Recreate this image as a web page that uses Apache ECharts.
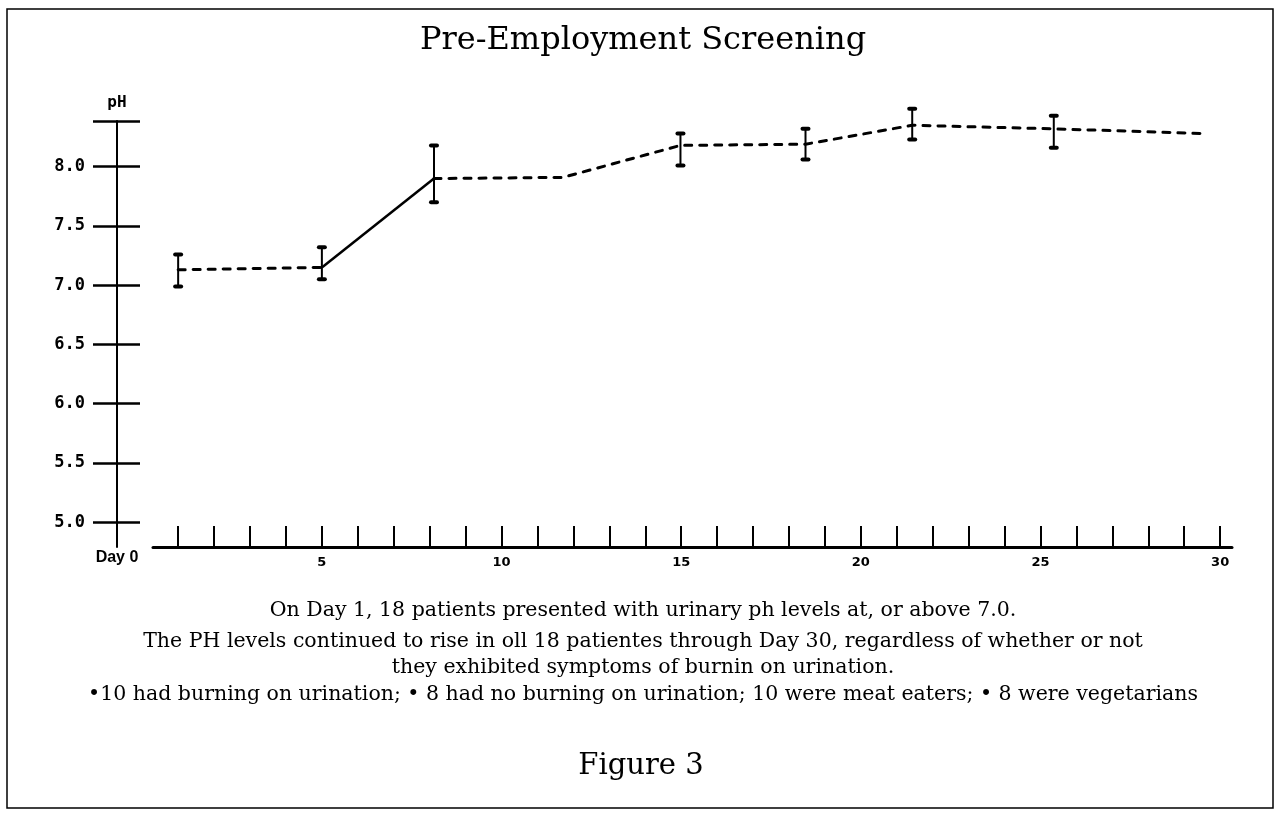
<!DOCTYPE html>
<html>
<head>
<meta charset="utf-8">
<title>Pre-Employment Screening</title>
<script src="https://cdn.jsdelivr.net/npm/echarts@6/dist/echarts.min.js"></script>
<style>
  html, body { margin: 0; padding: 0; background: #fff; }
  #chart { width: 1286px; height: 816px; }
</style>
</head>
<body>
<div id="chart"></div>
<script>
// values
var days = [1, 5, 8.12, 11.71, 14.98, 18.46, 21.43, 25.37, 29.54];
var phMean = [7.13, 7.15, 7.90, 7.91, 8.18, 8.19, 8.35, 8.32, 8.28];
var phLow = [6.99, 7.05, 7.70, null, 8.01, 8.06, 8.23, 8.16, null];
var phHigh = [7.26, 7.32, 8.18, null, 8.28, 8.32, 8.49, 8.43, null];
var solidFrom = 1, solidTo = 2; // day 5 -> day 8 drawn as a solid line

var dayTicks = [];
for (var d = 1; d <= 30; d++) dayTicks.push(d);
var dayLabels = [5, 10, 15, 20, 25, 30];
var phLabels = [5.0, 5.5, 6.0, 6.5, 7.0, 7.5, 8.0];
var phTop = 8.386, phBottom = 4.79;

var captionLines = [
  'On Day 1, 18 patients presented with urinary ph levels at, or above 7.0.',
  'The PH levels continued to rise in oll 18 patientes through Day 30, regardless of whether or not',
  'they exhibited symptoms of burnin on urination.',
  '\u202210 had burning on urination; \u2022 8 had no burning on urination; 10 were meat eaters; \u2022 8 were vegetarians'
];
var captionY = [611, 642, 668, 695];

function pts(a, b) {
  var out = [];
  for (var i = a; i <= b; i++) out.push([days[i], phMean[i]]);
  return out;
}

var errData = [];
for (var i = 0; i < days.length; i++) {
  if (phLow[i] != null) errData.push([days[i], phLow[i], phHigh[i]]);
}

var chart = echarts.init(document.getElementById('chart'));

var dashed = { color: '#000', width: 3, type: [7, 8], cap: 'round' };

var graphics = [{
  type: 'rect',
  shape: { x: 7, y: 9, width: 1266, height: 799 },
  style: { fill: 'none', stroke: '#000', lineWidth: 1.5 },
  z: 0
}, {
  type: 'text',
  x: 117, y: 558,
  style: { text: 'Day 0', font: 'bold 16px "Liberation Sans"', fill: '#000', align: 'center', verticalAlign: 'middle' }
}, {
  type: 'text',
  x: 641, y: 766,
  style: { text: 'Figure 3', font: '29px "DejaVu Serif"', fill: '#000', align: 'center', verticalAlign: 'middle' }
}];
captionLines.forEach(function (t, k) {
  graphics.push({
    type: 'text',
    x: 643, y: captionY[k],
    style: { text: t, font: '20.5px "DejaVu Serif"', fill: '#000', align: 'center', verticalAlign: 'middle' }
  });
});

var option = {
  backgroundColor: '#fff',
  animation: false,
  title: {
    text: 'Pre-Employment Screening',
    left: 'center',
    top: 20,
    textStyle: { fontFamily: 'DejaVu Serif', fontWeight: 'normal', fontSize: 32, color: '#000' }
  },
  grid: { left: 153, right: 54, top: 121, bottom: 269 },
  xAxis: {
    type: 'value',
    min: 0.3,
    max: 30.33,
    splitLine: { show: false },
    axisLine: { lineStyle: { color: '#000', width: 3 } },
    axisTick: { inside: true, length: 21, customValues: dayTicks, lineStyle: { color: '#000', width: 2 } },
    axisLabel: {
      customValues: dayLabels,
      margin: 9,
      color: '#000',
      fontFamily: 'DejaVu Sans',
      fontWeight: 'bold',
      fontSize: 13
    }
  },
  yAxis: [{
    type: 'value',
    min: phBottom,
    max: phTop,
    position: 'left',
    offset: 36,
    name: 'pH',
    nameLocation: 'end',
    nameGap: 10,
    nameTextStyle: { fontFamily: 'DejaVu Sans Mono', fontWeight: 'bold', fontSize: 16, color: '#000' },
    splitLine: { show: false },
    axisLine: { show: true, lineStyle: { color: '#000', width: 2 } },
    axisTick: { show: true, length: 24, customValues: phLabels.concat([phTop]), lineStyle: { color: '#000', width: 2.5 } },
    axisLabel: {
      customValues: phLabels,
      margin: 32,
      color: '#000',
      fontFamily: 'DejaVu Sans Mono',
      fontWeight: 'bold',
      fontSize: 17,
      formatter: function (v) { return v.toFixed(1); }
    }
  }, {
    type: 'value',
    min: phBottom,
    max: phTop,
    position: 'left',
    offset: 36,
    splitLine: { show: false },
    axisLine: { show: false },
    axisTick: { show: true, inside: true, length: 23, customValues: phLabels.concat([phTop]), lineStyle: { color: '#000', width: 2.5 } },
    axisLabel: { show: false }
  }],
  series: [{
    type: 'line',
    data: pts(0, solidFrom),
    showSymbol: false,
    lineStyle: dashed
  }, {
    type: 'line',
    data: pts(solidFrom, solidTo),
    showSymbol: false,
    lineStyle: { color: '#000', width: 2.5 }
  }, {
    type: 'line',
    data: pts(solidTo, days.length - 1),
    showSymbol: false,
    lineStyle: dashed
  }, {
    type: 'custom',
    data: errData,
    renderItem: function (params, api) {
      var top = api.coord([api.value(0), api.value(2)]);
      var bot = api.coord([api.value(0), api.value(1)]);
      var st = { stroke: '#000', lineWidth: 2 };
      var cap = { stroke: '#000', lineWidth: 4, lineCap: 'round' };
      return {
        type: 'group',
        children: [
          { type: 'line', shape: { x1: top[0], y1: top[1], x2: bot[0], y2: bot[1] }, style: st },
          { type: 'line', shape: { x1: top[0] - 3, y1: top[1], x2: top[0] + 3, y2: top[1] }, style: cap },
          { type: 'line', shape: { x1: bot[0] - 3, y1: bot[1], x2: bot[0] + 3, y2: bot[1] }, style: cap }
        ]
      };
    }
  }],
  graphic: graphics
};

chart.setOption(option);
</script>
</body>
</html>
